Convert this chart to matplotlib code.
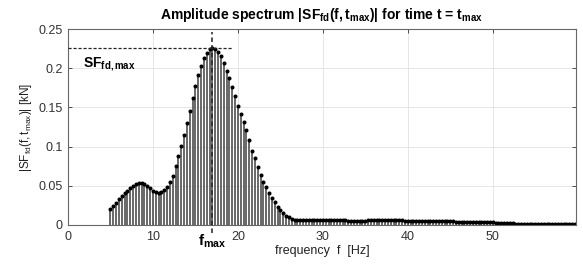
import numpy as np
import matplotlib
matplotlib.use("Agg")
import matplotlib.pyplot as plt
import matplotlib.transforms as mtransforms

plt.rcParams["font.family"] = ["Liberation Sans", "DejaVu Sans"]
plt.rcParams["mathtext.fontset"] = "custom"
plt.rcParams["mathtext.rm"] = "Liberation Sans"
plt.rcParams["mathtext.it"] = "Liberation Sans"
plt.rcParams["mathtext.bf"] = "Liberation Sans:bold"
plt.rcParams["mathtext.default"] = "regular"

# ---- Data ------------------------------------------------------------------
f_start = 5.0          # first spectral line [Hz]
df = 1.0 / 3.0         # line spacing [Hz]
f_max = 17.0           # frequency of the peak [Hz]
sf_max = 0.226         # peak amplitude [kN]

amp = [
    # 5.00 .. 17.00 Hz
    0.020, 0.024, 0.028, 0.033, 0.037, 0.041, 0.044, 0.047, 0.050, 0.052,
    0.053, 0.053, 0.052, 0.050, 0.047, 0.044, 0.042, 0.041, 0.042, 0.045,
    0.049, 0.055, 0.063, 0.075, 0.088, 0.101, 0.115, 0.130, 0.146, 0.162,
    0.177, 0.191, 0.203, 0.213, 0.220, 0.224, 0.226,
    # 17.33 .. 27.00 Hz
    0.225, 0.221, 0.215, 0.207, 0.197, 0.187, 0.176, 0.164, 0.152, 0.141,
    0.131, 0.121, 0.108, 0.095, 0.086, 0.074, 0.064, 0.055, 0.048, 0.041,
    0.034, 0.029, 0.023, 0.019, 0.015, 0.012, 0.010, 0.008, 0.007, 0.006,
    # 27.33 .. 59.67 Hz
    0.0060, 0.0060, 0.0062, 0.0064, 0.0065, 0.0065, 0.0064, 0.0063, 0.0062, 0.0062,
    0.0061, 0.0061, 0.0060, 0.0060, 0.0059, 0.0058, 0.0058, 0.0057, 0.0056, 0.0055,
    0.0055, 0.0055, 0.0056, 0.0057, 0.0058, 0.0059, 0.0060, 0.0060, 0.0061, 0.0061,
    0.0062, 0.0062, 0.0063, 0.0062, 0.0061, 0.0060, 0.0058, 0.0056, 0.0054, 0.0052,
    0.0050, 0.0048, 0.0047, 0.0046, 0.0046, 0.0047, 0.0048, 0.0049, 0.0050, 0.0050,
    0.0050, 0.0049, 0.0048, 0.0047, 0.0045, 0.0043, 0.0041, 0.0040, 0.0039, 0.0038,
    0.0038, 0.0038, 0.0037, 0.0037, 0.0036, 0.0035, 0.0034, 0.0033, 0.0032, 0.0031,
    0.0030, 0.0028, 0.0026, 0.0024, 0.0022, 0.0020, 0.0019, 0.0018, 0.0017, 0.0016,
    0.0015, 0.0015, 0.0014, 0.0014, 0.0014, 0.0014, 0.0015, 0.0015, 0.0015, 0.0015,
    0.0015, 0.0015, 0.0016, 0.0016, 0.0016, 0.0015, 0.0015, 0.0014,
]
freq = f_start + df * np.arange(len(amp))

x_ticks = [0, 10, 20, 30, 40, 50]
y_ticks = [0, 0.05, 0.1, 0.15, 0.2, 0.25]
y_tick_labels = ["0", "0.05", "0.1", "0.15", "0.2", "0.25"]

# ---- Figure ----------------------------------------------------------------
fig = plt.figure(figsize=(5.83, 2.69), dpi=100)
ax = fig.add_axes([0.1166, 0.1636, 0.8714, 0.7284])

ax.grid(True, color="#e2e2e2", linewidth=0.6)
ax.set_axisbelow(True)

markers, stems, base = ax.stem(freq, amp, basefmt=" ")
plt.setp(stems, color="#555555", linewidth=1.25)
plt.setp(markers, color="black", marker="o", markersize=1.9)

# dashed marker lines for the peak
ax.plot([f_max, f_max], [-0.01, 0.246], color="#222222", linestyle="--",
        linewidth=1.1, dashes=(3, 2), clip_on=False, zorder=5)
ax.plot([0, 19.4], [sf_max, sf_max], color="#222222", linestyle="--",
        linewidth=0.9, dashes=(2.5, 1.5), zorder=5)

ax.set_xlim(0, 59.8)
ax.set_ylim(0, 0.25)
ax.set_xticks(x_ticks)
ax.set_yticks(y_ticks)
ax.set_yticklabels(y_tick_labels)
ax.tick_params(direction="in", top=True, right=True, length=3, width=0.6,
               labelsize=9, colors="#333333", pad=4)
for sp in ax.spines.values():
    sp.set_color("#666666")
    sp.set_linewidth(0.8)

ax.set_title(r"Amplitude spectrum $\mathbf{|SF_{fd}(f,t_{max})|}$ for time t = $\mathbf{t_{max}}$",
             fontsize=10, fontweight="bold", pad=7)
ax.set_xlabel("frequency  f  [Hz]", fontsize=9, color="#222222", labelpad=2)
ax.set_ylabel(r"$|SF_{fd}(f,t_{max})|$ [kN]", fontsize=8.5, color="#222222", labelpad=3)

# annotations
trans = mtransforms.blended_transform_factory(ax.transData, ax.transAxes)
ax.text(f_max, -0.04, r"$\mathbf{f_{max}}$", transform=trans, ha="center",
        va="top", fontsize=11)
ax.text(1.8, 0.205, r"$\mathbf{SF_{fd,max}}$", ha="left", va="center",
        fontsize=10)

plt.savefig("out.png", dpi=100)
plt.close()
